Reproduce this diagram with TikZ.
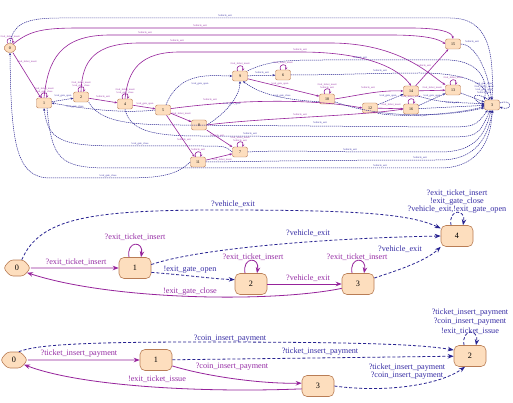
\documentclass[tikz,border=0pt]{standalone}
\usepackage{fontspec}
\setmainfont{Liberation Serif}
\usetikzlibrary{arrows.meta,shapes.symbols}
\definecolor{mag}{RGB}{150,35,155}
\definecolor{nav}{RGB}{40,35,145}
\definecolor{magtxt}{RGB}{150,45,165}
\definecolor{navtxt}{RGB}{55,45,165}
\definecolor{nfill}{RGB}{253,222,190}
\definecolor{ndraw}{RGB}{185,125,85}
\newcommand{\mylab}{\fontsize{8.2}{9.2}\selectfont}
\newcommand{\mytlab}{\fontsize{2.6}{3}\selectfont}
\newcommand{\mytnum}{\fontsize{4}{4.5}\selectfont}
\tikzset{
  mg/.style={draw=mag, line width=0.8pt, -{Stealth[length=6pt,width=4.5pt]}},
  nv/.style={draw=nav, line width=0.8pt, dash pattern=on 3pt off 2pt, -{Stealth[length=6pt,width=4.5pt]}},
  tmg/.style={draw=mag, line width=0.6pt, -{Stealth[length=2.6pt,width=2.2pt]}},
  tnv/.style={draw=nav, line width=0.5pt, dash pattern=on 1.2pt off 0.8pt, -{Stealth[length=2.6pt,width=2.2pt]}},
  lm/.style={text=magtxt, font=\mylab, inner sep=0.5pt},
  lb/.style={text=navtxt, font=\mylab, inner sep=0.5pt},
  tlm/.style={text=magtxt, font=\mytlab, inner sep=0.2pt},
  tlb/.style={text=navtxt, font=\mytlab, inner sep=0.2pt},
  st/.style={draw=ndraw, fill=nfill, rounded corners=5pt, minimum width=32pt, minimum height=21pt, inner sep=0pt, font=\mylab, line width=0.6pt},
  ini/.style={shape=signal, signal to=east and west, signal pointer angle=100, draw=ndraw, fill=nfill, minimum width=27pt, minimum height=16pt, inner sep=0pt, font=\mylab, line width=0.6pt, rounded corners=3pt},
  tst/.style={draw=ndraw, fill=nfill, rounded corners=2pt, minimum width=15pt, minimum height=10pt, inner sep=0pt, font=\mytnum, line width=0.45pt},
  tini/.style={shape=signal, signal to=east and west, signal pointer angle=100, draw=ndraw, fill=nfill, minimum width=13pt, minimum height=9pt, inner sep=0pt, font=\mytnum, line width=0.45pt, rounded corners=1.5pt}
}
\begin{document}
\begin{tikzpicture}[x=1pt,y=1pt]
\useasboundingbox (0,0) rectangle (513,-403);
\fill[white] (0,0) rectangle (513,-403);

%%%%%%%%%%%%%%%% TOP GRAPH %%%%%%%%%%%%%%%%
\node[tini] (T0) at (10,-48) {0};
\node[tst] (T1) at (44,-103) {1};
\node[tst] (T2) at (81,-97) {2};
\node[tst] (T3) at (125,-104) {4};
\node[tst] (T4) at (163,-110) {5};
\node[tst] (T5) at (240,-76) {9};
\node[tst] (T6) at (283,-75) {6};
\node[tst] (T7) at (327,-99) {10};
\node[tst] (T8) at (199,-125) {8};
\node[tst] (T9) at (240,-152) {7};
\node[tst] (T10) at (198,-162) {11};
\node[tst] (T11) at (453,-44) {15};
\node[tst] (T12) at (411,-91) {14};
\node[tst] (T13) at (453,-90) {13};
\node[tst] (T14) at (370,-108) {12};
\node[tst] (T15) at (411,-109) {16};
\node[tst] (T16) at (492,-105) {3};

% self loops
\foreach \n/\c in {T0/tmg,T1/tmg,T2/tmg,T3/tmg,T5/tmg,T6/tmg,T7/tmg,T9/tmg,T10/tmg,T13/tmg,T15/tmg}{
  \draw[\c] ([xshift=-2.5pt]\n.north) .. controls +(110:7) and +(70:7) .. ([xshift=2.5pt]\n.north);
}
\draw[tnv] ([yshift=2pt]T16.east) .. controls +(20:14) and +(-20:14) .. ([yshift=-2pt]T16.east);
\draw[tnv] ([xshift=-3pt]T16.north) .. controls +(150:22) and +(160:14) .. (T16.west);
\node[tlm] at (10,-37) {?exit\_ticket\_insert};
\node[tlm, align=center] at (44,-90) {?exit\_ticket\_insert\\!exit\_gate\_close};
\node[tlm, align=center] at (81,-84) {?exit\_ticket\_insert\\!exit\_gate\_close};
\node[tlm, align=center] at (125,-91) {?exit\_ticket\_insert\\!exit\_gate\_close};
\node[tlm] at (240,-64) {?exit\_ticket\_insert};
\node[tlm] at (283,-63) {?exit\_ticket\_insert};
\node[tlm, align=center] at (327,-86) {?exit\_ticket\_insert\\?vehicle\_exit};
\node[tlm, align=center] at (240,-139) {?exit\_ticket\_insert\\?vehicle\_exit};
\node[tlm] at (198,-150) {?vehicle\_exit};
\node[tlm] at (453,-78) {?exit\_ticket\_insert};
\node[tlm] at (411,-97) {?exit\_ticket\_insert};
\node[tlb, align=center] at (484,-88) {!exit\_gate\_close\\?exit\_ticket\_insert\\!exit\_gate\_open\\?vehicle\_exit};

% T0 edges
\draw[tmg] (T0) -- (T1);
\node[tlm] at (27,-62) {?exit\_ticket\_insert};
\draw[tnv] (T0.90) .. controls (13,-24) and (25,-18) .. (60,-18) -- (450,-18) .. controls (488,-18) and (494,-50) .. (T16.north);
\node[tlb] at (225,-16) {?vehicle\_exit};
\draw[tmg] (T0.50) .. controls (30,-30) and (45,-28) .. (80,-28) -- (410,-28) .. controls (440,-28) and (452,-32) .. (T11.north);
\node[tlm] at (200,-26) {?vehicle\_exit};
\draw[tnv] (T10.west) .. controls (175,-176) and (160,-178) .. (120,-178) -- (50,-178) .. controls (15,-178) and (11,-140) .. (T0.south);
\node[tlb] at (108,-176) {!exit\_gate\_close};

% T1 edges
\draw[tmg] (T1.north) .. controls (48,-60) and (60,-35) .. (110,-35) -- (390,-35) .. controls (430,-35) and (440,-40) .. (T11.west);
\node[tlm] at (145,-33) {?vehicle\_exit};
\draw[tnv] (T1) -- (T2);
\node[tlb] at (63,-96) {!exit\_gate\_open};
\draw[tnv] (T9.west) .. controls (225,-146) .. (200,-146) -- (120,-146) .. controls (60,-146) and (48,-140) .. (T1.south);
\node[tlb] at (140,-144) {!exit\_gate\_close};
\draw[tnv] (T1.300) .. controls (52,-160) and (60,-168) .. (110,-168) -- (440,-168) .. controls (485,-168) and (492,-130) .. (T16.south);
\node[tlb] at (380,-166) {?vehicle\_exit};

% T2 edges
\draw[tmg] (T2) -- (T3);
\node[tlm] at (103,-97) {?vehicle\_exit};
\draw[tmg] (T2.north) .. controls (82,-60) and (95,-43) .. (140,-43) -- (330,-43) .. controls (400,-43) and (430,-75) .. (T13.north west);
\node[tlm] at (177,-41) {?vehicle\_exit};
\draw[tnv] (T2.south east) .. controls (100,-122) and (130,-125) .. (180,-125) -- (440,-127) .. controls (475,-127) .. (T16.230);
\node[tlb] at (320,-123) {?vehicle\_exit};

% T3 edges
\draw[tmg] (T3) -- (T4);
\node[tlm] at (145,-104) {!exit\_gate\_open};
\draw[tnv] (T4.west) .. controls (120,-114) and (80,-108) .. (T1.east);
\node[tlb] at (75,-107) {!exit\_gate\_close};
\draw[tmg] (T3.north) .. controls (128,-70) and (140,-52) .. (180,-52) -- (300,-52) .. controls (370,-52) and (400,-70) .. (T12.north);
\node[tlm] at (300,-50) {?vehicle\_exit};
\draw[tnv] (T3.south) .. controls (130,-130) and (150,-136) .. (200,-136) -- (440,-137) .. controls (478,-137) .. (T16.250);
\node[tlb] at (250,-134) {?vehicle\_exit};

% T4 edges
\draw[tnv] (T4.60) .. controls (180,-70) and (212,-76) .. (T5.west);
\node[tlb] at (200,-84) {!exit\_gate\_open};
\draw[tmg] (T4) -- (T8);
\node[tlm] at (181,-114) {?exit\_ticket\_insert};
\draw[tmg] (T4) -- (T10);
\node[tlm] at (184,-140) {?vehicle\_exit};
\draw[tmg] (T4.10) .. controls (250,-98) and (320,-100) .. (T14.west);
\node[tlm] at (210,-100) {?vehicle\_exit};

% T5 / T6 / T7
\draw[tnv] (T5) -- (T6);
\node[tlb] at (262,-73) {?vehicle\_exit};
\draw[tmg] (T5.-20) -- (T7.160);
\node[tlm] at (280,-84) {!exit\_gate\_open};
\draw[tnv] (T7.200) .. controls (290,-100) and (262,-96) .. (T5.-60);
\node[tlb] at (282,-96) {!exit\_gate\_close};
\draw[tnv] (T5.north east) .. controls (270,-60) and (290,-60) .. (330,-60) -- (450,-60) .. controls (480,-62) and (488,-80) .. (T16.north west);
\node[tlb] at (360,-58) {?vehicle\_exit};
\draw[tnv] (T6.east) .. controls (330,-75) and (380,-73) .. (420,-73) .. controls (470,-73) and (485,-85) .. (T16.110);
\node[tlb] at (380,-71) {?vehicle\_exit};
\draw[tmg] (T7.east) .. controls (360,-95) and (380,-90) .. (T12.west);
\node[tlm] at (368,-88) {?vehicle\_exit};
\draw[tnv] (T7.-20) .. controls (380,-118) and (440,-118) .. (T16.200);

% T8 / T9 / T10
\draw[tnv] (T8.east) .. controls (228,-112) and (240,-95) .. (T5.south);
\node[tlb] at (232,-104) {!exit\_gate\_open};
\draw[tmg] (T8) -- (T9);
\node[tlm] at (217,-136) {?vehicle\_exit};
\draw[tmg] (T8.east) .. controls (260,-118) and (360,-116) .. (T15.west);
\node[tlm] at (300,-115) {?vehicle\_exit};
\draw[tnv] (T9.east) .. controls (280,-150) and (330,-152) .. (380,-152) -- (440,-152) .. controls (475,-152) and (485,-135) .. (T16.260);
\node[tlb] at (350,-150) {?vehicle\_exit};
\draw[tmg] (T10) -- (T9);
\node[tlm] at (222,-160) {?exit\_ticket\_insert};
\draw[tnv] (T10.east) .. controls (230,-162) and (300,-160) .. (440,-160) .. controls (478,-160) and (488,-135) .. (T16.280);
\node[tlb] at (420,-158) {?vehicle\_exit};

% right cluster
\draw[tnv] (T14) -- (T12);
\node[tlb] at (388,-96) {!exit\_gate\_open};
\draw[tmg] (T14) -- (T15);
\node[tlm] at (391,-105) {?exit\_ticket\_insert};
\draw[tmg] (T12) -- (T11);
\node[tlm] at (424,-66) {?vehicle\_exit};
\draw[tmg] (T12) -- (T13);
\node[tlm] at (432,-88) {?exit\_ticket\_insert};
\draw[tnv] (T15) -- (T13);
\node[tlb] at (432,-96) {!exit\_gate\_open};
\draw[tnv] (T11.east) .. controls (475,-44) and (488,-70) .. (T16.95);
\node[tlb] at (472,-42) {?vehicle\_exit};
\draw[tnv] (T13) -- (T16);
\draw[tnv] (T15) -- (T16);
\node[tlb] at (452,-103) {?vehicle\_exit};
\draw[tnv] (T12.south east) .. controls (440,-102) .. (T16.170);
\draw[tnv] (T14.south east) .. controls (400,-118) and (460,-114) .. (T16.190);
\node[tlb] at (420,-116) {?vehicle\_exit};

%%%%%%%%%%%%%%%% MIDDLE GRAPH %%%%%%%%%%%%%%%%
\node[ini] (m0) at (17,-268) {0};
\node[st] (m1) at (135,-268) {1};
\node[st] (m2) at (251,-284) {2};
\node[st] (m3) at (358,-284) {3};
\node[st] (m4) at (457,-236) {4};

\draw[mg] (m0) -- (m1);
\node[lm] at (76,-262) {?exit\_ticket\_insert};
\draw[mg] ([xshift=-6pt]m1.north) .. controls +(100:17pt) and +(80:17pt) .. ([xshift=6pt]m1.north);
\node[lm] at (135,-237) {?exit\_ticket\_insert};
\draw[nv] (m0.60) .. controls (40,-218) and (90,-210) .. (220,-210) .. controls (360,-210) and (410,-214) .. (m4.155);
\node[lb] at (233,-204) {?vehicle\_exit};
\draw[nv] (m1.12) .. controls (200,-248) and (330,-238) .. (m4.west);
\node[lb] at (308,-233) {?vehicle\_exit};
\draw[nv] (m1.-15) .. controls (185,-275) and (215,-279) .. (m2.165);
\node[lb] at (190,-270) {!exit\_gate\_open};
\draw[mg] ([xshift=-6pt]m2.north) .. controls +(100:17pt) and +(80:17pt) .. ([xshift=6pt]m2.north);
\node[lm] at (253,-257) {?exit\_ticket\_insert};
\draw[mg] (m2) -- (m3);
\node[lm] at (308,-278) {?vehicle\_exit};
\draw[mg] ([xshift=-6pt]m3.north) .. controls +(100:17pt) and +(80:17pt) .. ([xshift=6pt]m3.north);
\node[lm] at (357,-257) {?exit\_ticket\_insert};
\draw[nv] (m3.20) .. controls (392,-272) and (425,-262) .. (m4.south west);
\node[lb] at (400,-249) {?vehicle\_exit};
\draw[mg] (m3.195) .. controls (270,-303) and (110,-300) .. (m0.-25);
\node[lm] at (190,-292) {!exit\_gate\_close};
\draw[nv] ([xshift=-6pt]m4.north) .. controls +(100:17pt) and +(80:17pt) .. ([xshift=6pt]m4.north);
\node[lb] at (457,-193) {?exit\_ticket\_insert};
\node[lb] at (457,-202) {!exit\_gate\_close};
\node[lb] at (457,-210) {?vehicle\_exit,!exit\_gate\_open};

%%%%%%%%%%%%%%%% BOTTOM GRAPH %%%%%%%%%%%%%%%%
\node[ini] (b0) at (14,-360) {0};
\node[st] (b1) at (156,-360) {1};
\node[st] (b2) at (470,-356) {2};
\node[st] (b3) at (318,-386) {3};

\draw[nv] (b0.60) .. controls (35,-345) and (80,-342) .. (200,-342) .. controls (350,-342) and (420,-344) .. (b2.160);
\node[lb] at (230,-339) {?coin\_insert\_payment};
\draw[mg] (b0) -- (b1);
\node[lm] at (79,-354) {?ticket\_insert\_payment};
\draw[nv] (b1) -- (b2);
\node[lb] at (320,-352) {?ticket\_insert\_payment};
\draw[mg] (b1.-20) .. controls (205,-376) and (260,-384) .. (b3.170);
\node[lm] at (232,-367) {?coin\_insert\_payment};
\draw[mg] (b3.190) .. controls (200,-393) and (80,-386) .. (b0.-25);
\node[lm] at (157,-379) {!exit\_ticket\_issue};
\draw[nv] (b3.east) .. controls (385,-393) and (440,-385) .. (b2.-115);
\node[lb] at (407,-368) {?ticket\_insert\_payment};
\node[lb] at (407,-376) {?coin\_insert\_payment};
\draw[nv] ([xshift=-6pt]b2.north) .. controls +(100:17pt) and +(80:17pt) .. ([xshift=6pt]b2.north);
\node[lb] at (470,-313) {?ticket\_insert\_payment};
\node[lb] at (470,-322) {?coin\_insert\_payment};
\node[lb] at (470,-331) {!exit\_ticket\_issue};
\end{tikzpicture}
\end{document}
